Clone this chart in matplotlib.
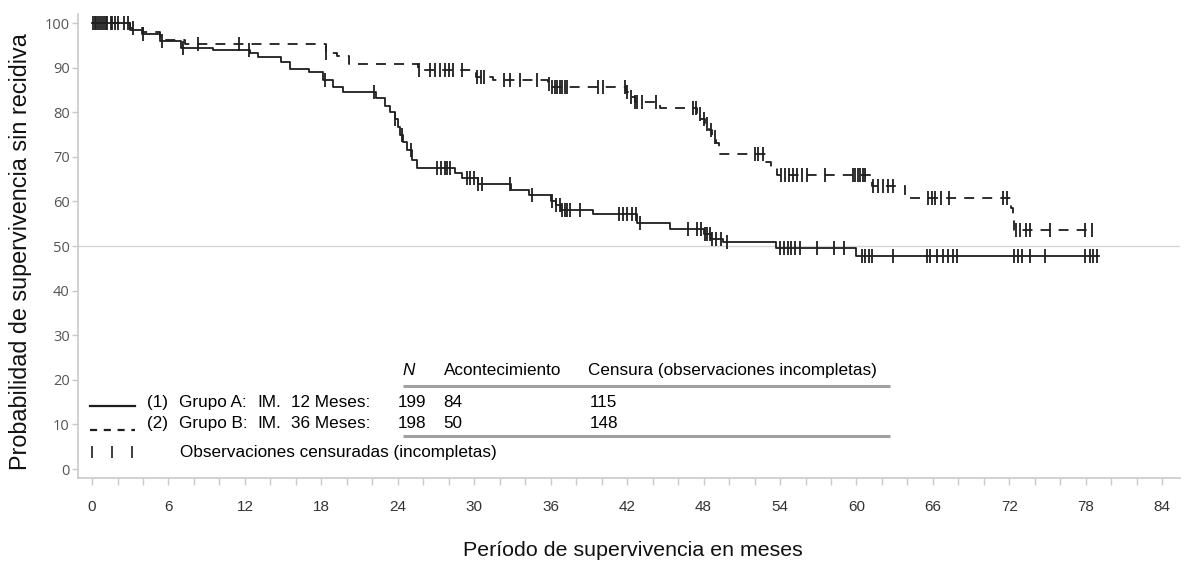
import numpy as np
import matplotlib
matplotlib.use("Agg")
import matplotlib.pyplot as plt

# ---------------- data ----------------
# Group A (solid): step times and survival (%) after each step
a_times = [0.0, 3.0, 3.9, 5.3, 7.0, 9.5, 12.4, 13.0, 14.8, 15.5, 17.0, 18.1, 18.9, 19.7,
           22.3, 23.0, 23.4, 23.8, 24.0, 24.2, 24.4, 24.7, 25.1, 25.5, 28.5, 29.0, 30.3,
           32.9, 34.3, 36.0, 36.4, 36.8, 39.3, 42.8, 45.4, 48.0, 48.6, 49.5, 53.7, 60.0]
a_surv = [100.0, 98.5, 97.6, 96.0, 94.5, 94.0, 93.2, 92.4, 91.3, 89.8, 89.0, 87.2, 85.7, 84.6,
          83.2, 81.5, 80.0, 78.5, 76.7, 74.8, 73.3, 71.5, 69.3, 67.6, 66.3, 65.2, 64.0,
          62.6, 61.4, 60.2, 59.2, 58.1, 57.1, 55.2, 53.8, 52.6, 51.5, 51.0, 49.5, 47.8]
a_end = 79.0
a_cens = [0.2, 0.5, 0.8, 1.1, 1.5, 1.8, 2.8, 4.0, 5.5, 7.1, 12.3, 18.3, 22.1, 23.8, 24.3, 25.0,
          27.1, 27.4, 27.7, 27.9, 28.1, 29.4, 29.7, 30.0, 30.3, 30.6, 32.8, 34.5, 36.1, 36.4,
          36.7, 36.9, 37.1, 37.3, 37.5, 38.3, 41.4, 41.7, 42.0, 42.4, 42.7, 43.0, 46.8, 47.5,
          47.8, 48.1, 48.3, 48.5, 48.7, 49.0, 49.4, 49.8, 54.0, 54.3, 54.6, 54.9, 55.2, 55.6,
          56.9, 58.2, 59.0, 60.4, 60.7, 61.0, 61.2, 62.9, 65.5, 65.8, 66.3, 66.8, 67.2, 67.6,
          67.9, 72.4, 72.7, 73.0, 73.6, 74.8, 77.9, 78.3, 78.6, 78.9]

# Group B (dashed)
b_times = [0.0, 3.0, 4.0, 5.3, 7.3, 18.4, 19.2, 20.2, 25.6, 30.1, 31.5, 35.8, 36.0, 41.9,
           42.2, 42.6, 44.6, 47.5, 47.8, 48.1, 48.4, 48.7, 49.0, 49.2, 52.9, 53.3, 53.8,
           61.2, 63.8, 72.1, 72.3, 72.4]
b_surv = [100.0, 98.9, 98.0, 96.3, 95.4, 93.2, 92.6, 90.8, 89.4, 88.0, 87.2, 86.4, 85.7, 84.5,
          83.5, 82.3, 80.9, 79.5, 78.5, 77.3, 76.0, 74.5, 73.1, 70.6, 68.8, 67.5, 66.0,
          63.5, 60.8, 58.5, 56.0, 53.6]
b_end = 78.5
b_cens = [0.1, 0.3, 0.6, 0.9, 1.2, 1.6, 2.0, 2.5, 3.2, 8.3, 11.5, 18.4, 25.7, 26.5, 26.9, 27.3,
          27.7, 28.0, 28.3, 29.0, 30.2, 30.5, 30.8, 32.3, 32.8, 33.6, 34.9, 35.9, 36.1, 36.3,
          36.5, 36.7, 36.9, 37.1, 37.3, 39.7, 40.1, 41.8, 42.0, 42.3, 42.6, 42.8, 43.2, 44.3,
          47.2, 47.4, 47.7, 48.0, 48.3, 48.6, 48.9, 52.0, 52.3, 52.7, 54.1, 54.4, 54.7, 55.0,
          55.3, 55.7, 56.1, 57.5, 59.7, 59.9, 60.1, 60.3, 60.5, 60.7, 61.3, 61.7, 62.1, 62.5,
          62.9, 65.6, 65.9, 66.2, 66.6, 67.3, 71.5, 71.8, 72.5, 72.8, 73.3, 73.6, 75.2, 77.9,
          78.5]

x_ticks = list(range(0, 85, 6))
y_ticks = list(range(0, 101, 10))

legend_header = ["N", "Acontecimiento", "Censura (observaciones incompletas)"]
legend_rows = [
    ["(1)", "Grupo A:", "IM.", "12 Meses:", "199", "84", "115"],
    ["(2)", "Grupo B:", "IM.", "36 Meses:", "198", "50", "148"],
]
censor_label = "Observaciones censuradas (incompletas)"
xlabel = "Período de supervivencia en meses"
ylabel = "Probabilidad de supervivencia sin recidiva"

# ---------------- figure ----------------
LC = "#1e1e1e"
GRAY = "#c9c9c9"
fig = plt.figure(figsize=(11.95, 5.62), dpi=100)
ax = fig.add_axes([0.0653, 0.1495, 0.9222, 0.8254])
ax.set_xlim(-1.1, 85.4)
ax.set_ylim(-2, 102)

ax.axhline(50, color="#d6d6d6", lw=1.0, zorder=1)


def step_value(times, surv, t):
    idx = np.searchsorted(np.asarray(times), np.asarray(t), side="right") - 1
    return np.asarray(surv)[idx]


lw = 1.3
# group A
ax.step(list(a_times) + [a_end], list(a_surv) + [a_surv[-1]], where="post",
        color=LC, lw=lw, zorder=3)
ax.plot(a_cens, step_value(a_times, a_surv, a_cens), ls="none", marker="|",
        ms=9.5, mew=1.3, color=LC, zorder=4)
# group B
ax.step(list(b_times) + [b_end], list(b_surv) + [b_surv[-1]], where="post",
        color=LC, lw=lw, ls=(0, (5.5, 4.5)), zorder=3)
ax.plot(b_cens, step_value(b_times, b_surv, b_cens), ls="none", marker="|",
        ms=9.5, mew=1.3, color=LC, zorder=4)

# axes styling
for s in ["top", "right"]:
    ax.spines[s].set_visible(False)
for s in ["left", "bottom"]:
    ax.spines[s].set_color(GRAY)
    ax.spines[s].set_linewidth(1.2)

ax.set_xticks(x_ticks)
ax.set_xticks(np.arange(0, 85, 2), minor=True)
ax.set_yticks(y_ticks)
ax.tick_params(axis="x", which="both", direction="out", length=5, width=1, color=GRAY,
               pad=11, labelsize=11, labelcolor="#333333")
ax.tick_params(axis="y", direction="out", length=4, width=1, color=GRAY, pad=2,
               labelsize=10.5, labelcolor="#555555")
for lab in ax.get_xticklabels():
    lab.set_family(["Liberation Sans Narrow", "Liberation Sans", "DejaVu Sans"])
for lab in ax.get_yticklabels():
    lab.set_family(["Open Sans", "DejaVu Sans"])

fig.text(0.0175, 0.553, ylabel, rotation=90, ha="center", va="center",
         fontsize=16.8, family=["Liberation Sans", "DejaVu Sans"], color="#111111")
fig.text(0.5297, 0.0196, xlabel, ha="center", va="center",
         fontsize=15.4, family=["Liberation Sans", "DejaVu Sans"], color="#111111")

# ---------------- legend table ----------------
LF = ["Liberation Sans", "DejaVu Sans"]
fs = 12.3
hy, r1y, r2y, r3y = 22.2, 15.0, 10.3, 3.8
ax.text(24.4, hy, legend_header[0], fontsize=fs, family=LF, style="italic", va="center")
ax.text(27.6, hy, legend_header[1], fontsize=fs, family=LF, va="center")
ax.text(38.9, hy, legend_header[2], fontsize=fs, family=LF, va="center")
col_x = [4.3, 6.8, 13.0, 15.6, 24.0, 27.6, 39.1]
for row, yy in zip(legend_rows, [r1y, r2y]):
    for txt, xx in zip(row, col_x):
        ax.text(xx, yy, txt, fontsize=fs, family=LF, va="center")
ax.text(6.9, r3y, censor_label, fontsize=fs, family=LF, va="center")

for yy in [18.6, 7.4]:
    ax.plot([24.4, 62.6], [yy, yy], color="#a0a0a0", lw=2.2, solid_capstyle="butt",
            clip_on=False)

ax.plot([-0.15, 3.4], [14.1, 14.1], color=LC, lw=1.6, clip_on=False)
ax.plot([-0.15, 3.4], [8.7, 8.7], color=LC, lw=1.6, ls=(0, (3.2, 3.0)), clip_on=False)
ax.plot([0.0, 1.57, 3.14], [3.8, 3.8, 3.8], ls="none", marker="|", ms=9, mew=1.2,
        color=LC, clip_on=False)

fig.savefig("out.png", dpi=100)
